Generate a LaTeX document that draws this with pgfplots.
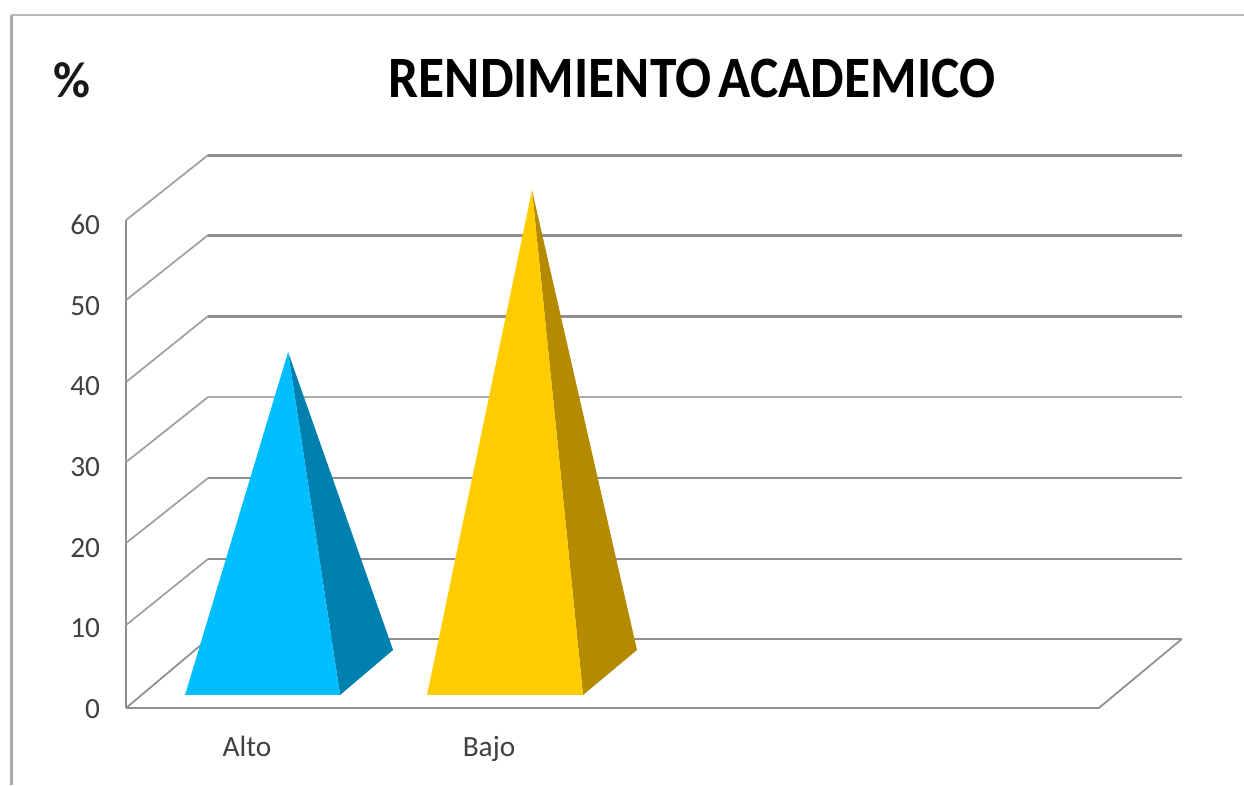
\documentclass[border=0pt]{standalone}
\usepackage{pgfplots}
\pgfplotsset{compat=1.18}
\usepackage{fontspec}
\setmainfont{Carlito}
\definecolor{gridc}{HTML}{8F8F8F}
\definecolor{framec}{HTML}{A8A8A8}
\definecolor{blueF}{HTML}{00BEFF}
\definecolor{blueS}{HTML}{0080AE}
\definecolor{yelF}{HTML}{FFCC00}
\definecolor{yelS}{HTML}{B38A00}
\definecolor{txt}{HTML}{404040}
\begin{document}
\begin{tikzpicture}
\begin{axis}[
  scale only axis, width=933pt, height=588.75pt,
  xmin=0, xmax=1244, ymin=-9.669, ymax=87.641,
  axis line style={draw=none}, major tick length=0pt,
  no markers, clip=true,
  xtick={247,489}, xticklabels={Alto,Bajo},
  ytick={0,10,20,30,40,50,60},
  /pgf/number format/assume math mode=true,
  tick label style={font=\fontsize{22}{26}\selectfont, text=txt},
  x tick label style={anchor=center, text height=14pt, text depth=5pt, yshift=26pt},
  y tick label style={anchor=east, xshift=78.5pt, yshift=-1.5pt},
]
% frame
\addplot[framec, line width=2.4pt] coordinates {(11,-9.669) (11,85.78)};
\addplot[framec!80, line width=1.5pt] coordinates {(11,85.78) (1244,85.78)};
% wall
\addplot[gridc, line width=1.7pt] coordinates {(126,-0.124) (126,60.37)};
% floor
\addplot[gridc, line width=1.6pt] coordinates {(126,-0.124) (1099,-0.124)};
\addplot[gridc, line width=1.3pt] coordinates {(1099,-0.124) (1182,8.43)};
\addplot[gridc, line width=1.8pt] coordinates {(1182,8.43) (208,8.43)};
\addplot[gridc, line width=1.3pt] coordinates {(208,8.43) (126,-0.124)};
% side lines on the wall
\addplot[gridc!85, line width=1.3pt] coordinates {(126,10.165) (208,18.35)};
\addplot[gridc!85, line width=1.3pt] coordinates {(126,20.33) (208,28.39)};
\addplot[gridc!85, line width=1.3pt] coordinates {(126,30.37) (208,38.43)};
\addplot[gridc!85, line width=1.3pt] coordinates {(126,40.29) (208,48.47)};
\addplot[gridc!85, line width=1.3pt] coordinates {(126,50.45) (208,58.51)};
\addplot[gridc!85, line width=1.3pt] coordinates {(126,60.37) (208,68.43)};
% lines on the back
\addplot[gridc, line width=1.9pt] coordinates {(208,18.35) (1182,18.35)};
\addplot[gridc, line width=2.2pt] coordinates {(208,28.39) (1182,28.39)};
\addplot[gridc!75, line width=1.5pt] coordinates {(208,38.43) (1182,38.43)};
\addplot[gridc, line width=2.2pt] coordinates {(208,48.47) (1182,48.47)};
\addplot[gridc, line width=2.2pt] coordinates {(208,58.51) (1182,58.51)};
\addplot[gridc, line width=2.2pt] coordinates {(208,68.43) (1182,68.43)};
% Alto
\addplot[fill=blueS, draw=none] coordinates {(288,44.01) (393,7.066) (340,1.488)} --cycle;
\addplot[fill=blueF, draw=none] coordinates {(288,44.01) (340,1.488) (185,1.488)} --cycle;
% Bajo
\addplot[fill=yelS, draw=none] coordinates {(532,64.09) (637,7.066) (583,1.488)} --cycle;
\addplot[fill=yelF, draw=none] coordinates {(532,64.09) (583,1.488) (427,1.488)} --cycle;
% titles
\node[font=\fontsize{44}{50}\selectfont\bfseries, text=black] at (axis cs:692,77.97) {\scalebox{0.91}[1]{RENDIMIENTO\hspace{-4pt} ACADEMICO}};
\node[font=\fontsize{38}{42}\selectfont\bfseries, text=black!90] at (axis cs:72,77.72) {\%};
\end{axis}
\end{tikzpicture}
\end{document}
